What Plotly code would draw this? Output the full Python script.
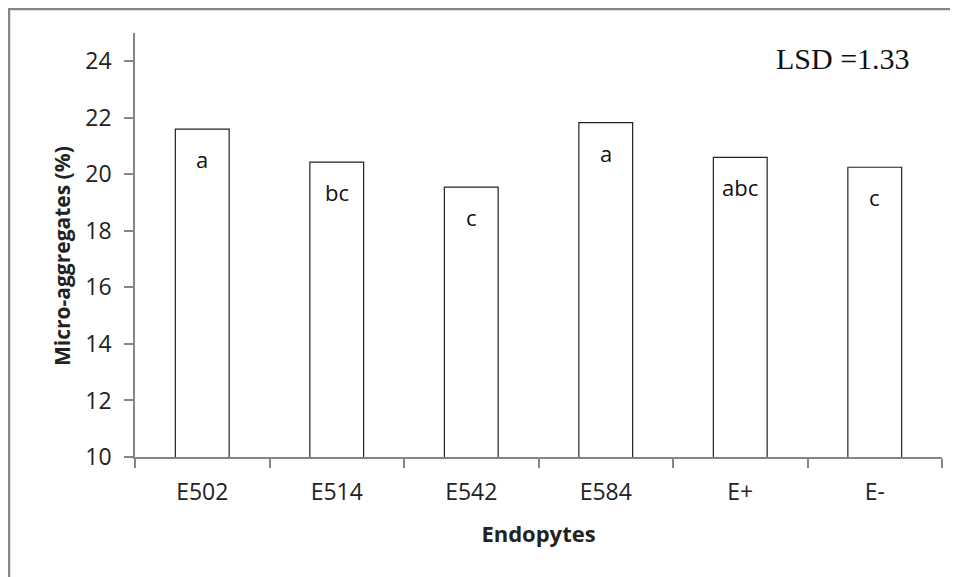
import plotly.graph_objects as go

categories = ["E502", "E514", "E542", "E584", "E+", "E-"]
values = [21.6, 20.43, 19.55, 21.83, 20.6, 20.25]
letters = ["a", "bc", "c", "a", "abc", "c"]
y_ticks = [10, 12, 14, 16, 18, 20, 22, 24]
lsd_text = "LSD =1.33"
y_title = "Micro-aggregates (%)"
x_title = "Endopytes"

font_sans = "Open Sans, Liberation Sans, sans-serif"

W, H = 950, 569
L, R, T, B = 127, 16, 25, 120
pw, ph = W - L - R, H - T - B

def px(x):
    return (x - L) / pw

def py(y):
    return 1 - (y - T) / ph

fig = go.Figure()
fig.add_trace(go.Bar(
    x=categories, y=values,
    marker=dict(color="white", line=dict(color="#222222", width=1.2)),
    width=0.4, showlegend=False, hoverinfo="skip",
))

for c, v, t in zip(categories, values, letters):
    fig.add_annotation(x=c, y=v, text=t, showarrow=False, yshift=-30,
                       font=dict(family=font_sans, size=22, color="#111111"))

fig.add_annotation(xref="paper", yref="paper", x=px(904), y=py(50), text=lsd_text,
                   showarrow=False, xanchor="right", yanchor="middle",
                   font=dict(family="Liberation Serif, Times New Roman, serif", size=30, color="#111111"))

# y-axis title placed as annotation (slightly below plot centre, as in reference)
fig.add_annotation(xref="paper", yref="paper", x=px(54), y=py(248), text="<b>" + y_title + "</b>",
                   showarrow=False, textangle=-90, xanchor="center", yanchor="middle",
                   font=dict(family=font_sans, size=21, color="#222222"))

# outer border (top and left)
fig.add_shape(type="line", xref="paper", yref="paper", x0=px(0), x1=px(W), y0=py(1), y1=py(1),
              line=dict(color="#868686", width=2.5))
fig.add_shape(type="line", xref="paper", yref="paper", x0=px(1), x1=px(1), y0=py(0), y1=py(H),
              line=dict(color="#868686", width=2.5))

fig.update_layout(
    width=W, height=H,
    margin=dict(l=L, r=R, t=T, b=B),
    paper_bgcolor="white", plot_bgcolor="white",
    bargap=0.6,
    font=dict(family=font_sans, size=22, color="#222222"),
    xaxis=dict(
        title=dict(text="<b>" + x_title + "</b>", font=dict(size=22, family=font_sans), standoff=20),
        showline=True, linecolor="#868686", linewidth=1.5,
        ticks="outside", ticklen=9, tickcolor="#868686", tickwidth=1.5,
        tickson="boundaries", showgrid=False,
        tickfont=dict(size=23, family=font_sans),
        ticklabelstandoff=14,
    ),
    yaxis=dict(
        range=[10, 25], tickvals=y_ticks,
        showline=True, linecolor="#868686", linewidth=1.5,
        ticks="outside", ticklen=9, tickcolor="#868686", tickwidth=1.5,
        showgrid=False, zeroline=False,
        tickfont=dict(size=23, family=font_sans),
        ticklabelstandoff=8,
    ),
)

fig.write_html("out.html")
